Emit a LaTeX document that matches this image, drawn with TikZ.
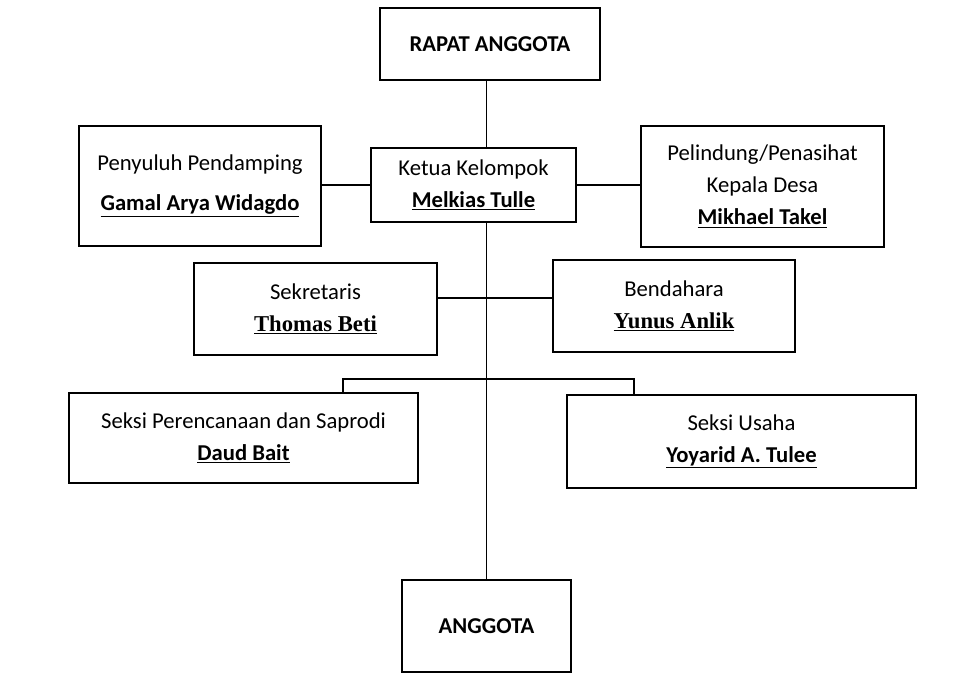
\documentclass[tikz,border=0pt]{standalone}
\usepackage{fontspec}
\setmainfont{Carlito}
\newfontfamily\tnr{Liberation Serif}
\usetikzlibrary{backgrounds}
\begin{document}
\begin{tikzpicture}[x=0.75pt,y=-0.75pt,
  box/.style={draw,line width=0.9pt,fill=white,align=center,font=\fontsize{17}{24}\selectfont},
  ln/.style={line width=1.2pt}]
\useasboundingbox (0,0) rectangle (980,691);
\node[box,minimum width=165pt,minimum height=54pt] (rapat) at (490,44) {\textbf{RAPAT ANGGOTA}};
\node[box,minimum width=181.5pt,minimum height=90pt] (peny) at (200,186) {Penyuluh Pendamping\\[6pt]\textbf{\underline{Gamal Arya Widagdo}}};
\node[box,minimum width=153.75pt,minimum height=55.5pt] (ketua) at (473.5,185) {Ketua Kelompok\\\textbf{\underline{Melkias Tulle}}};
\node[box,minimum width=182.25pt,minimum height=90.75pt] (pel) at (762.5,186.5) {Pelindung/Penasihat\\Kepala Desa\\\textbf{\underline{Mikhael Takel}}};
\node[box,minimum width=182.25pt,minimum height=69pt] (sek) at (315.5,309) {Sekretaris\\{\tnr\bfseries\underline{Thomas Beti}}};
\node[box,minimum width=181.5pt,minimum height=69pt] (bend) at (674,306) {Bendahara\\{\tnr\bfseries\underline{Yunus Anlik}}};
\node[box,minimum width=261.75pt,minimum height=67.5pt] (sp) at (243.5,438) {Seksi Perencanaan dan Saprodi\\\textbf{\underline{Daud Bait}}};
\node[box,minimum width=261.75pt,minimum height=69.75pt] (su) at (741.5,441.5) {Seksi Usaha\\\textbf{\underline{Yoyarid A. Tulee}}};
\node[box,minimum width=126.75pt,minimum height=69pt] (ang) at (486.5,626) {\textbf{ANGGOTA}};
\coordinate (bl) at (343,379);
\coordinate (br) at (634,379);
\coordinate (sb) at (487,298);
\begin{pgfonlayer}{background}
\draw[ln] (rapat.south -| ang.north) -- (ang.north);
\draw[ln] (peny.east |- ketua.west) -- (ketua.west);
\draw[ln] (ketua.east) -- (pel.west |- ketua.east);
\draw[ln] (sek.east |- sb) -- (bend.west |- sb);
\draw[ln] (sp.north -| bl) -- (bl) -- (br) -- (su.north -| br);
\end{pgfonlayer}
\end{tikzpicture}
\end{document}
